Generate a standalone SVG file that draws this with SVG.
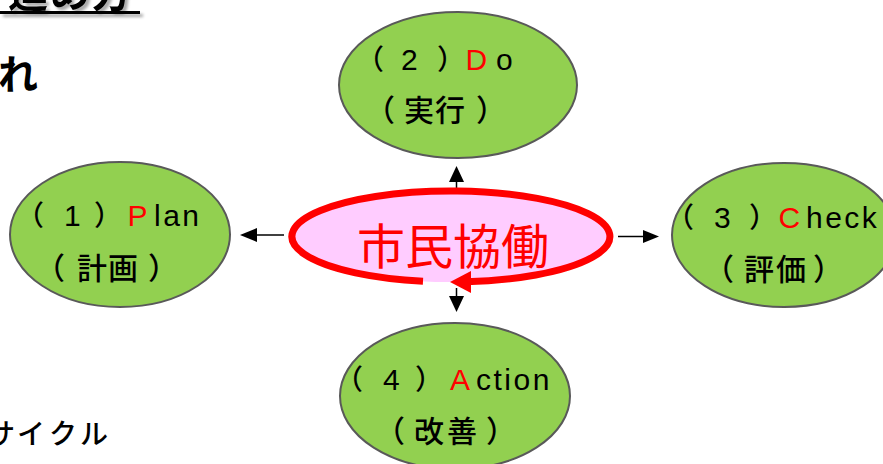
<svg xmlns="http://www.w3.org/2000/svg" width="883" height="464" viewBox="0 0 883 464">
<style>
.node{fill:#92D050;stroke:#595959;stroke-width:2}
.lbl{font-family:"Noto Sans CJK JP","Noto Sans",sans-serif;font-size:30px;font-weight:500;fill:#000}
.l1{font-family:"Liberation Sans","Noto Sans CJK JP",sans-serif;font-size:30px;letter-spacing:2.5px;fill:#000}
.fw{font-family:"Noto Sans CJK JP",sans-serif;font-size:28px;font-weight:500}
.r{fill:#FF0000}
.conn line{stroke:#000;stroke-width:1.5}
.conn polygon{fill:#000}
.big{font-family:"Noto Sans CJK JP",sans-serif;font-weight:700;font-size:40px}
</style>
<defs>
<filter id="sh" x="-10%" y="-50%" width="130%" height="250%">
<feDropShadow dx="3" dy="3" stdDeviation="1.5" flood-color="#000" flood-opacity="0.35"/>
</filter>
</defs>
<rect width="883" height="464" fill="#fff"/>

<g id="title" filter="url(#sh)">
<text class="big" x="8 50 92" y="7">進め方</text>
<rect x="0" y="11" width="140" height="3" fill="#000"/>
</g>
<g id="text-re">
<text class="big" x="-2" y="89">れ</text>
</g>
<g id="text-cycle">
<text font-family="'Noto Sans CJK JP',sans-serif" font-size="28" font-weight="500" x="-13 17 49 80" y="444">サイクル</text>
</g>

<g id="connectors" class="conn">
<line x1="456.5" y1="193" x2="456.5" y2="180"/>
<polygon points="456.5,166 449,182 464,182"/>
<line x1="456.5" y1="288" x2="456.5" y2="298"/>
<polygon points="456.5,312 449,296 464,296"/>
<line x1="284" y1="235" x2="255" y2="235"/>
<polygon points="240,235 257,228 257,242"/>
<line x1="618" y1="236.5" x2="645" y2="236.5"/>
<polygon points="659,236.5 643,230 643,243"/>
</g>

<g id="center">
<ellipse cx="451" cy="236.5" rx="159" ry="45.5" fill="#FFCCFF"/>
<path d="M423 281.3 A159 45.5 0 1 1 466 281.8" fill="none" stroke="#FF0000" stroke-width="7"/>
<polygon points="450,282 471,271 471,293" fill="#FF0000"/>
<text x="453" y="264" text-anchor="middle" font-family="'Noto Sans CJK JP',sans-serif" font-size="48" fill="#FF0000">市民協働</text>
</g>

<g id="plan">
<ellipse class="node" cx="120" cy="234.5" rx="110" ry="72.5"/>
<text class="l1" x="16 64 94 127.5 154" y="226"><tspan class="fw">（</tspan>1<tspan class="fw">）</tspan><tspan class="r">P</tspan>lan</text>
<text class="lbl" x="35 77 108 148" y="279">（計画）</text>
</g>

<g id="do">
<ellipse class="node" cx="458" cy="85" rx="119" ry="73"/>
<text class="l1" x="356 401 437 465.5 496" y="70"><tspan class="fw">（</tspan>2<tspan class="fw">）</tspan><tspan class="r">D</tspan>o</text>
<text class="lbl" x="365 404 435 476" y="121">（実行）</text>
</g>

<g id="check">
<ellipse class="node" cx="784" cy="235" rx="112" ry="72"/>
<text class="l1" x="666 714 749 778.5 806" y="228"><tspan class="fw">（</tspan>3<tspan class="fw">）</tspan><tspan class="r">C</tspan>heck</text>
<text class="lbl" x="704 744 776 813" y="280">（評価）</text>
</g>

<g id="action">
<ellipse class="node" cx="455" cy="396" rx="115" ry="73"/>
<text class="l1" x="335 383 415 450 476" y="390"><tspan class="fw">（</tspan>4<tspan class="fw">）</tspan><tspan class="r">A</tspan>ction</text>
<text class="lbl" x="375 414 447 486" y="442">（改善）</text>
</g>
</svg>
